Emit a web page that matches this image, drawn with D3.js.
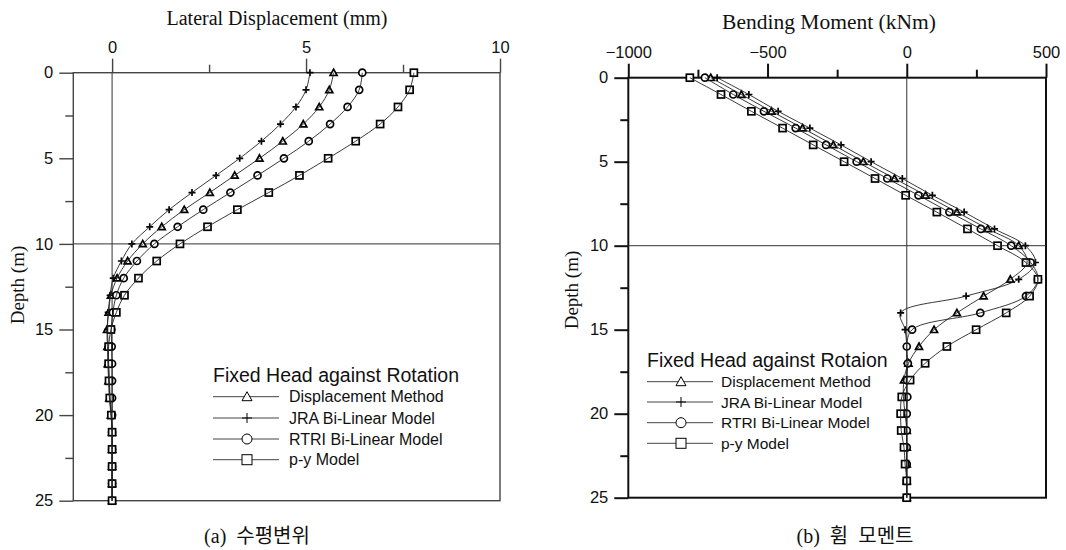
<!DOCTYPE html>
<html>
<head>
<meta charset="utf-8">
<script src="https://cdn.jsdelivr.net/npm/d3@7"></script>
<style>
  body { margin: 0; background: #fff; }
  svg { display: block; }
  text { white-space: pre; }
</style>
</head>
<body>
<svg id="chart" width="1066" height="550"></svg>
<script>
// Depths along the pile (m)
const depth = d3.range(0, 26);

// (a) Lateral displacement (mm)
const dispDisplacement = [5.71, 5.60, 5.34, 4.93, 4.40, 3.80, 3.16, 2.52, 1.86, 1.28, 0.79, 0.40, 0.13, -0.03, -0.09, -0.13, -0.12, -0.11, -0.09, -0.07, -0.03, 0, 0, 0, 0, 0];
const dispJRA          = [5.10, 5.00, 4.74, 4.34, 3.85, 3.29, 2.68, 2.06, 1.47, 0.97, 0.51, 0.24, 0.03, -0.05, -0.10, -0.12, -0.10, -0.09, -0.07, -0.05, -0.02, 0, 0, 0, 0, 0];
const dispRTRI         = [6.45, 6.37, 6.07, 5.62, 5.07, 4.43, 3.75, 3.05, 2.35, 1.69, 1.09, 0.64, 0.30, 0.11, 0.02, -0.02, -0.01, 0, 0, 0, 0, 0, 0, 0, 0, 0];
const dispPY           = [7.78, 7.67, 7.37, 6.91, 6.28, 5.57, 4.83, 4.04, 3.23, 2.46, 1.75, 1.15, 0.68, 0.32, 0.11, -0.03, -0.09, -0.09, -0.08, -0.06, -0.02, 0, 0, 0, 0, 0];

// (b) Bending moment (kNm)
const momDisplacement = [-704, -594, -486, -374, -264, -156, -44, 68, 180, 291, 402, 432, 372, 276, 180, 98, 44, 6, -10, -12, -6, 0, 0, 0, 0, 0];
const momJRA          = [-681, -567, -462, -348, -236, -128, -16, 92, 206, 315, 426, 462, 402, 213, -22, -6, 0, 0, 0, 0, 0, 0, 0, 0, 0, 0];
const momRTRI         = [-725, -623, -513, -399, -290, -180, -70, 42, 153, 266, 375, 445, 471, 428, 264, 19, 0, 4, 0, 2, 0, 0, 0, 0, 0, 0];
const momPY           = [-779, -667, -558, -446, -336, -225, -114, -4, 108, 218, 326, 428, 471, 441, 357, 249, 144, 66, 12, -18, -22, -20, -10, -6, 0, 0];

const seriesNames = ["Displacement Method", "JRA Bi-Linear Model", "RTRI Bi-Linear Model", "p-y Model"];
const seriesSymbols = ["triangle", "plus", "circle", "square"];

const dispTicks = [0, 5, 10];
const dispMinor = [2.5, 7.5];
const momTicks = [-1000, -500, 0, 500];
const momMinor = [-750, -250, 250];
const depthTicks = [0, 5, 10, 15, 20, 25];
const depthMinor = [2.5, 7.5, 12.5, 17.5, 22.5];

const svg = d3.select("#chart");
const SANS = "'Liberation Sans', Arial, sans-serif";
const SERIF = "'Liberation Serif', 'Times New Roman', serif";

function drawMarker(g, type, x, y, size, sw) {
  const h = size / 2;
  if (type === "square") {
    g.append("rect").attr("x", x - h).attr("y", y - h).attr("width", size).attr("height", size)
      .attr("fill", "#fff").attr("stroke", "#000").attr("stroke-width", sw);
  } else if (type === "circle") {
    g.append("circle").attr("cx", x).attr("cy", y).attr("r", h)
      .attr("fill", "#fff").attr("stroke", "#000").attr("stroke-width", sw);
  } else if (type === "triangle") {
    g.append("path").attr("d", `M${x},${y - h}L${x + h},${y + h * 0.8}L${x - h},${y + h * 0.8}Z`)
      .attr("fill", "#fff").attr("stroke", "#000").attr("stroke-width", sw);
  } else if (type === "plus") {
    g.append("path").attr("d", `M${x - h},${y}L${x + h},${y}M${x},${y - h}L${x},${y + h}`)
      .attr("fill", "none").attr("stroke", "#000").attr("stroke-width", sw);
  }
}

function panel(opts) {
  const { xDomain, xRange, yRange, xTicks, xMinor, data, frameWidth, frameColor,
          xTitle, xTitleX, xTitleY, xTitleSize, yTitleX, yTitleY, legend, caption } = opts;
  const x = d3.scaleLinear().domain(xDomain).range(xRange);
  const y = d3.scaleLinear().domain([0, 25]).range(yRange);
  const g = svg.append("g");

  // Top axis (major + minor ticks, outward)
  const topAxis = d3.axisTop(x).tickValues(xTicks).tickSize(14).tickPadding(6).tickFormat(d3.format("d"));
  g.append("g").attr("transform", `translate(0,${yRange[0]})`).call(topAxis);
  g.append("g").attr("transform", `translate(0,${yRange[0]})`)
    .call(d3.axisTop(x).tickValues(xMinor).tickSize(8).tickFormat(""));
  // Left axis
  g.append("g").attr("transform", `translate(${xRange[0]},0)`)
    .call(d3.axisLeft(y).tickValues(depthTicks).tickSize(14).tickPadding(6));
  g.append("g").attr("transform", `translate(${xRange[0]},0)`)
    .call(d3.axisLeft(y).tickValues(depthMinor).tickSize(8).tickFormat(""));
  g.selectAll(".domain").remove();
  g.selectAll(".tick line").attr("stroke", frameColor).attr("stroke-width", frameWidth);
  g.selectAll(".tick text").attr("font-family", SANS).attr("font-size", 16.5).attr("fill", "#111");

  // Frame and reference lines
  g.append("rect").attr("x", xRange[0]).attr("y", yRange[0])
    .attr("width", xRange[1] - xRange[0]).attr("height", yRange[1] - yRange[0])
    .attr("fill", "none").attr("stroke", frameColor).attr("stroke-width", frameWidth);
  g.append("line").attr("x1", x(0)).attr("x2", x(0)).attr("y1", yRange[0]).attr("y2", yRange[1])
    .attr("stroke", "#333").attr("stroke-width", 1);
  g.append("line").attr("x1", xRange[0]).attr("x2", xRange[1]).attr("y1", y(10)).attr("y2", y(10))
    .attr("stroke", "#333").attr("stroke-width", 1);

  // Series: markers, then the curve drawn through them
  const line = d3.line().x(d => x(d[0])).y(d => y(d[1])).curve(d3.curveCatmullRom.alpha(0.5));
  const gm = g.append("g");
  const gl = g.append("g");
  data.forEach((vals, i) => {
    const pts = vals.map((v, k) => [v, depth[k]]);
    pts.forEach(p => drawMarker(gm, seriesSymbols[i], x(p[0]), y(p[1]), 7, 1.7));
    gl.append("path").attr("d", line(pts)).attr("fill", "none")
      .attr("stroke", "#222").attr("stroke-width", 0.9);
  });

  // Titles
  g.append("text").attr("x", xTitleX).attr("y", xTitleY)
    .attr("text-anchor", "middle").attr("font-family", SERIF).attr("font-size", xTitleSize)
    .attr("fill", "#111").text(xTitle);
  g.append("text").attr("transform", `translate(${yTitleX},${yTitleY}) rotate(-90)`)
    .attr("text-anchor", "middle").attr("dominant-baseline", "central")
    .attr("font-family", SERIF).attr("font-size", 19).attr("fill", "#111").text("Depth (m)");

  // Legend
  const lg = g.append("g");
  lg.append("text").attr("x", legend.x).attr("y", legend.titleY)
    .attr("font-family", SANS).attr("font-size", legend.titleSize).attr("fill", "#111").text(legend.title);
  seriesNames.forEach((name, i) => {
    const ry = legend.rows[i];
    lg.append("line").attr("x1", legend.x).attr("x2", legend.x + 66).attr("y1", ry).attr("y2", ry)
      .attr("stroke", "#444").attr("stroke-width", 1);
    drawMarker(lg, seriesSymbols[i], legend.x + 34, ry, 10, 1);
    lg.append("text").attr("x", legend.x + legend.textDx).attr("y", ry + 5.5)
      .attr("font-family", SANS).attr("font-size", legend.textSize).attr("fill", "#111").text(name);
  });

  // Caption
  g.append("text").attr("x", caption.x).attr("y", 543).attr("text-anchor", "middle")
    .attr("font-family", SERIF + ", 'Noto Sans CJK KR'").attr("font-size", 20).attr("fill", "#111")
    .text(caption.text);
}

panel({
  xDomain: [-1, 10], xRange: [73.3, 500], yRange: [72.7, 500.7],
  xTicks: dispTicks, xMinor: dispMinor,
  data: [dispDisplacement, dispJRA, dispRTRI, dispPY],
  frameWidth: 1.4, frameColor: "#444",
  xTitle: "Lateral Displacement (mm)", xTitleX: 277, xTitleY: 25, xTitleSize: 20,
  yTitleX: 17, yTitleY: 285,
  legend: { x: 213, titleY: 381.5, titleSize: 19.5, title: "Fixed Head against Rotation",
            rows: [396.7, 418, 439, 459.7], textDx: 76, textSize: 16 },
  caption: { x: 257, text: "(a)  수평변위" }
});

panel({
  xDomain: [-1000, 500], xRange: [628.3, 1046], yRange: [77.7, 497.7],
  xTicks: momTicks, xMinor: momMinor,
  data: [momDisplacement, momJRA, momRTRI, momPY],
  frameWidth: 2, frameColor: "#111",
  xTitle: "Bending Moment (kNm)", xTitleX: 829, xTitleY: 29, xTitleSize: 21.5,
  yTitleX: 571, yTitleY: 290,
  legend: { x: 647, titleY: 366.5, titleSize: 19.5, title: "Fixed Head against Rotaion",
            rows: [381.7, 402, 422.7, 443.3], textDx: 74, textSize: 15.5 },
  caption: { x: 855, text: "(b)  휨  모멘트" }
});
</script>
</body>
</html>
